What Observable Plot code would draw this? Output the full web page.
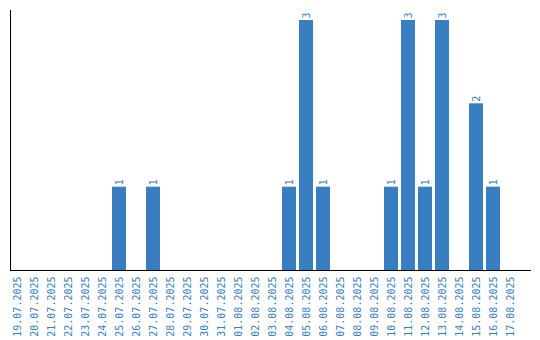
<!DOCTYPE html>
<html>
<head>
<meta charset="utf-8">
<script src="https://cdn.jsdelivr.net/npm/d3@7"></script>
<script src="https://cdn.jsdelivr.net/npm/@observablehq/plot@0.6"></script>
<style>
  html, body { margin: 0; padding: 0; background: #fff; }
</style>
</head>
<body>
<div id="chart"></div>
<script>
const dates = ["19.07.2025","20.07.2025","21.07.2025","22.07.2025","23.07.2025","24.07.2025","25.07.2025","26.07.2025","27.07.2025","28.07.2025","29.07.2025","30.07.2025","31.07.2025","01.08.2025","02.08.2025","03.08.2025","04.08.2025","05.08.2025","06.08.2025","07.08.2025","08.08.2025","09.08.2025","10.08.2025","11.08.2025","12.08.2025","13.08.2025","14.08.2025","15.08.2025","16.08.2025","17.08.2025"];
const counts = [0,0,0,0,0,0,1,0,1,0,0,0,0,0,0,0,1,3,1,0,0,0,1,3,1,3,0,2,1,0];

const color = "#3a7ec2";
const data = dates.map((d, i) => ({date: d, count: counts[i]}));
const nonZero = data.filter(d => d.count > 0);

const chart = Plot.plot({
  width: 540,
  height: 340,
  marginTop: 10,
  marginBottom: 70,
  marginLeft: 10,
  marginRight: 10,
  style: {fontFamily: "DejaVu Sans Mono", fontSize: "10px", background: "#fff"},
  x: {domain: dates, range: [10, 517], paddingInner: 3/17, paddingOuter: 0},
  y: {domain: [0, 3.12]},
  marks: [
    Plot.barY(nonZero, {x: "date", y: "count", fill: color}),
    Plot.text(nonZero, {x: "date", y: "count", text: d => String(d.count), rotate: -90, textAnchor: "start", dy: -2, fill: color, fontSize: 10}),
    Plot.axisX({tickRotate: -90, tickSize: 0, tickPadding: 6, fill: color, fontSize: 10, label: null}),
    Plot.axisY({ticks: [], label: null}),
    Plot.frame({anchor: "left", stroke: "#000"}),
    Plot.frame({anchor: "bottom", stroke: "#000"})
  ]
});
document.getElementById("chart").appendChild(chart);
</script>
</body>
</html>
